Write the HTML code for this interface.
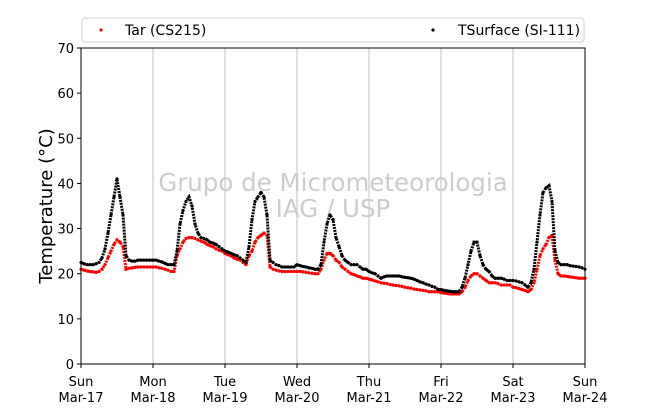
<!DOCTYPE html>
<html><head><meta charset="utf-8"><style>
body{margin:0;background:#fff;font-family:"DejaVu Sans","Liberation Sans",sans-serif}
svg text{font-family:"DejaVu Sans","Liberation Sans",sans-serif}
</style></head><body>
<svg id="chart" width="650" height="409" xmlns="http://www.w3.org/2000/svg">
<g id="grid"></g>
<text x="333" y="191" font-size="24.5" fill="#cccccc" text-anchor="middle">Grupo de Micrometeorologia</text>
<text x="333" y="217" font-size="24.5" fill="#cccccc" text-anchor="middle">IAG / USP</text>
<g id="series"></g>
<rect x="81" y="48" width="504" height="316" fill="none" stroke="#000" stroke-width="1"/>
<g id="axes"></g>
<text transform="translate(52,206) rotate(-90)" font-size="18" text-anchor="middle">Temperature (°C)</text>
<g>
<rect x="82" y="18" width="502" height="24" rx="3" fill="#fff" stroke="#d0d0d0"/>
<circle cx="101" cy="30" r="1.6" fill="red"/>
<text x="125" y="35" font-size="14">Tar (CS215)</text>
<circle cx="433" cy="30" r="1.6" fill="#000"/>
<text x="458" y="35" font-size="14">TSurface (SI-111)</text>
</g>
</svg>
<script>
const dayLabels=["Sun","Mon","Tue","Wed","Thu","Fri","Sat","Sun"];
const dateLabels=["Mar-17","Mar-18","Mar-19","Mar-20","Mar-21","Mar-22","Mar-23","Mar-24"];
const yTicks=[0,10,20,30,40,50,60,70];
const tar=[21,20.8,20.6,20.5,20.4,20.3,20.5,21,22,23.5,25,26.5,27.5,27,26,21,21.2,21.3,21.4,21.5,21.5,21.5,21.5,21.5,
21.5,21.5,21.3,21.2,21,20.8,20.5,20.5,24,25.5,27,27.8,28,28,27.8,27.5,27.2,27,26.5,26.2,26,25.5,25.2,25,
24.5,24.2,24,23.5,23.2,23,22.5,22,24,25,27,28,28.5,29,28.5,21.5,21,20.8,20.6,20.5,20.5,20.5,20.5,20.5,
20.5,20.5,20.4,20.3,20.2,20.1,20,20,21,23,24.5,24.5,24,23,22.5,21.5,21,20.5,20,19.8,19.5,19.3,19,19,
18.8,18.6,18.4,18.2,18,17.9,17.8,17.6,17.5,17.4,17.3,17.2,17,16.9,16.8,16.6,16.5,16.4,16.3,16.2,16,16,16,16,
15.8,15.7,15.6,15.5,15.5,15.5,15.5,16,17,18.5,19.5,20,20,19.5,19,18.5,18,18,18,17.8,17.5,17.5,17.5,17.5,
17,16.9,16.7,16.5,16.3,16,16.5,18,21,24,25.5,26.5,28,28.5,23,20,19.5,19.5,19.4,19.3,19.2,19.1,19,19,19];
const tsurf=[22.5,22.2,22,22,22,22.2,22.5,23.5,25.5,29,33,37,41,37,33,24,23,22.8,22.8,23,23,23,23,23,
23,23,22.8,22.6,22.3,22,22,22,25,31,34,36,37,35,31,29,28,27.8,27.5,27,26.8,26.5,26,25.5,
25,24.8,24.5,24.2,24,23.5,23,22.5,26,32,36,37,38,37,33,23,22.5,22,21.8,21.5,21.5,21.5,21.5,21.5,
22,21.8,21.6,21.5,21.3,21.2,21,21,22,27,31,33,32,28,26,24,23,22.5,22,22,22,21.5,21,21,
20.5,20.2,20,19.5,19,19.3,19.5,19.5,19.5,19.5,19.5,19.3,19.2,19.1,19,18.8,18.5,18.2,18,17.7,17.5,17.2,17,16.5,
16.5,16.3,16.2,16.1,16,16,16,17,19,22,25,27,27,24,22,21,20.5,19.5,19,19,19,18.8,18.5,18.5,
18.5,18.4,18.2,18,17.5,17,18,21,27,33,38,39,39.5,36,25,22.5,22,22,22,21.8,21.7,21.6,21.5,21.3,21];
const X0=81,PW=504,Y0=364,PH=316,HRS=168,YMAX=70;
const xs=h=>X0+h*PW/HRS, ys=v=>Y0-v*PH/YMAX;
const NS="http://www.w3.org/2000/svg";
function mk(t,a,p){const e=document.createElementNS(NS,t);for(const k in a)e.setAttribute(k,a[k]);p.appendChild(e);return e;}
const grid=document.getElementById('grid'),axes=document.getElementById('axes'),ser=document.getElementById('series');
dayLabels.forEach((d,i)=>{const x=xs(i*24);
 if(i>0&&i<7){const g=mk('line',{x1:x,x2:x,y1:48,y2:364,stroke:'#b0b0b0','stroke-width':0.8},grid);
 
 }
 const tk=mk('line',{x1:x,x2:x,y1:364,y2:368,stroke:'#000'},axes);
 
 
 const t=mk('text',{x:x,y:386,'font-size':13,'text-anchor':'middle'},axes);t.textContent=d;
 
 
 const t2=mk('text',{x:x,y:402,'font-size':13,'text-anchor':'middle'},axes);t2.textContent=dateLabels[i];
 
 
});
yTicks.forEach(v=>{const y=ys(v);
 const tk=mk('line',{x1:77,x2:81,y1:y,y2:y,stroke:'#000'},axes);
 
 
 const t=mk('text',{x:74,y:y+5,'font-size':13,'text-anchor':'end'},axes);t.textContent=v;
 
 
});
function draw(arr,col,name){
 const g=mk('g',{},ser);
 
 
 const pl=mk('polyline',{points:arr.map((v,i)=>xs(i)+','+ys(v)).join(' '),fill:'none',stroke:col,'stroke-width':3,'stroke-dasharray':'2 1'},g);
 
 
 arr.forEach((v,i)=>{const c=mk('circle',{cx:xs(i),cy:ys(v),r:1.6,fill:col},g);
  
  });
}
draw(tar,'red','tar-series');
draw(tsurf,'#000','tsurface-series');
</script>
</body></html>
